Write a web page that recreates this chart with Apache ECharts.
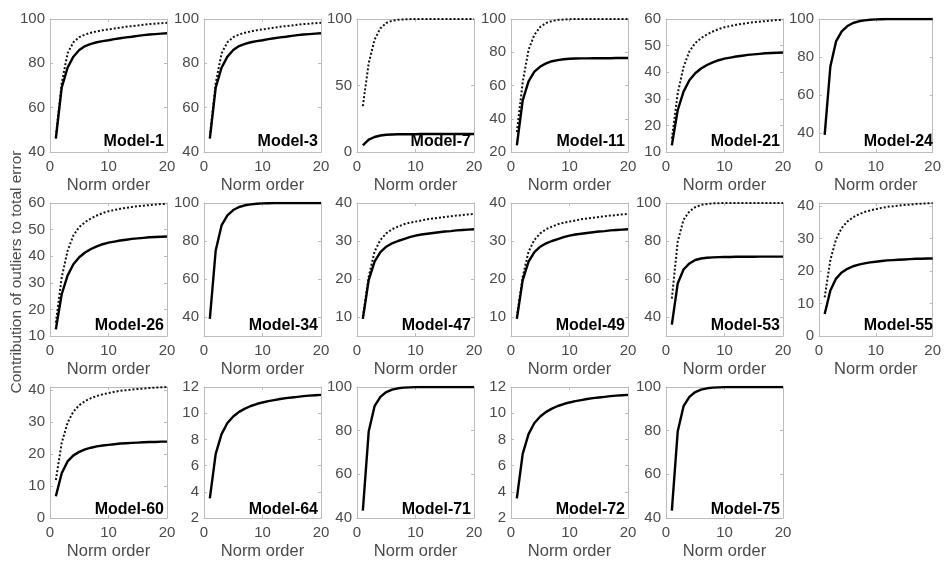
<!DOCTYPE html>
<html>
<head>
<meta charset="utf-8">
<script src="https://cdn.jsdelivr.net/npm/echarts@6/dist/echarts.min.js"></script>
<style>
  html, body { margin: 0; padding: 0; background: #fff; }
  #chart0 { width: 944px; height: 561px; }
</style>
</head>
<body>
<div id="chart0"></div>
<script>
// norm order 1..20
var normOrder = [1, 2, 3, 4, 5, 6, 7, 8, 9, 10, 11, 12, 13, 14, 15, 16, 17, 18, 19, 20]
var xTicks = [0, 10, 20]

var m1Solid = [46, 69, 78, 83, 86, 87.8, 88.8, 89.5, 90, 90.4, 90.9, 91.3, 91.7, 92, 92.4, 92.7, 93, 93.2, 93.4, 93.6]
var m1Dotted = [47, 71, 84.5, 89.5, 91.8, 93, 93.8, 94.4, 94.9, 95.3, 95.7, 96.1, 96.5, 96.8, 97.1, 97.4, 97.7, 97.9, 98.1, 98.3]
var m7Solid = [5, 9.3, 11.3, 12.4, 13, 13.2, 13.3, 13.4, 13.4, 13.4, 13.5, 13.5, 13.5, 13.5, 13.5, 13.5, 13.5, 13.5, 13.5, 13.5]
var m7Dotted = [34.5, 66.7, 84.4, 93, 97, 98.7, 99.4, 99.7, 99.9, 100, 100, 100, 100, 100, 100, 100, 100, 100, 100, 100]
var m11Solid = [24, 51, 62.5, 68.3, 71.4, 73.3, 74.6, 75.3, 75.8, 76.1, 76.2, 76.3, 76.3, 76.4, 76.4, 76.4, 76.4, 76.5, 76.5, 76.5]
var m11Dotted = [32, 62, 81.5, 90.5, 95.3, 97.6, 98.8, 99.4, 99.7, 99.9, 100, 100, 100, 100, 100, 100, 100, 100, 100, 100]
var m21Solid = [12.5, 25.7, 32.7, 37, 39.6, 41.4, 42.7, 43.7, 44.5, 45.1, 45.5, 45.9, 46.2, 46.5, 46.7, 46.9, 47.1, 47.2, 47.3, 47.4]
var m21Dotted = [15, 32, 42, 47.8, 51, 52.8, 54.2, 55.3, 56.2, 56.9, 57.4, 57.8, 58.2, 58.5, 58.8, 59, 59.2, 59.4, 59.6, 59.7]
var m24Solid = [39, 75, 88.2, 93.5, 96.3, 97.9, 98.8, 99.3, 99.6, 99.8, 99.9, 100, 100, 100, 100, 100, 100, 100, 100, 100]
var m47Solid = [9.5, 19.7, 24.6, 27.1, 28.5, 29.4, 30, 30.5, 31, 31.4, 31.7, 31.9, 32.1, 32.3, 32.5, 32.6, 32.8, 32.9, 33, 33.1]
var m47Dotted = [10, 20.6, 27.2, 30.3, 32, 33.1, 33.8, 34.4, 34.8, 35.1, 35.4, 35.7, 35.9, 36.1, 36.3, 36.5, 36.7, 36.8, 37, 37.1]
var m53Solid = [36, 57.6, 65, 68.2, 70, 70.8, 71.2, 71.4, 71.5, 71.6, 71.6, 71.7, 71.7, 71.7, 71.7, 71.8, 71.8, 71.8, 71.8, 71.8]
var m53Dotted = [49.7, 79.7, 91.2, 95.6, 97.8, 99, 99.5, 99.8, 99.9, 100, 100, 100, 100, 100, 100, 100, 100, 100, 100, 100]
var m55Solid = [6.8, 14, 17.7, 19.6, 20.7, 21.5, 22, 22.4, 22.7, 22.9, 23.1, 23.3, 23.4, 23.5, 23.6, 23.7, 23.8, 23.8, 23.9, 23.9]
var m55Dotted = [11.9, 23.5, 29.8, 33.3, 35.3, 36.6, 37.5, 38.2, 38.7, 39.1, 39.5, 39.8, 40, 40.2, 40.4, 40.5, 40.7, 40.8, 40.9, 41]
var m64Solid = [3.5, 6.9, 8.4, 9.25, 9.75, 10.1, 10.35, 10.55, 10.7, 10.82, 10.92, 11, 11.08, 11.15, 11.2, 11.25, 11.3, 11.34, 11.37, 11.4]
var m71Solid = [43.4, 79.6, 91.2, 95.5, 97.7, 98.8, 99.4, 99.7, 99.85, 99.95, 100, 100, 100, 100, 100, 100, 100, 100, 100, 100]

var ticks40to100 = [40, 60, 80, 100]
var ticks0to100 = [0, 50, 100]
var ticks20to100 = [20, 40, 60, 80, 100]
var ticks10to60 = [10, 20, 30, 40, 50, 60]
var ticks10to40 = [10, 20, 30, 40]
var ticks0to40 = [0, 10, 20, 30, 40]
var ticks2to12 = [2, 4, 6, 8, 10, 12]

var panels = [
  { name: 'Model-1', solid: m1Solid, dotted: m1Dotted, min: 40, max: 100, ticks: ticks40to100 },
  { name: 'Model-3', solid: m1Solid, dotted: m1Dotted, min: 40, max: 100, ticks: ticks40to100 },
  { name: 'Model-7', solid: m7Solid, dotted: m7Dotted, min: 0, max: 100, ticks: ticks0to100 },
  { name: 'Model-11', solid: m11Solid, dotted: m11Dotted, min: 20, max: 100, ticks: ticks20to100 },
  { name: 'Model-21', solid: m21Solid, dotted: m21Dotted, min: 10, max: 60, ticks: ticks10to60 },
  { name: 'Model-24', solid: m24Solid, dotted: null, min: 30, max: 100, ticks: ticks40to100 },
  { name: 'Model-26', solid: m21Solid, dotted: m21Dotted, min: 10, max: 60, ticks: ticks10to60 },
  { name: 'Model-34', solid: m24Solid, dotted: null, min: 30, max: 100, ticks: ticks40to100 },
  { name: 'Model-47', solid: m47Solid, dotted: m47Dotted, min: 5, max: 40, ticks: ticks10to40 },
  { name: 'Model-49', solid: m47Solid, dotted: m47Dotted, min: 5, max: 40, ticks: ticks10to40 },
  { name: 'Model-53', solid: m53Solid, dotted: m53Dotted, min: 30, max: 100, ticks: ticks40to100 },
  { name: 'Model-55', solid: m55Solid, dotted: m55Dotted, min: 0, max: 41, ticks: ticks0to40 },
  { name: 'Model-60', solid: m55Solid, dotted: m55Dotted, min: 0, max: 41, ticks: ticks0to40 },
  { name: 'Model-64', solid: m64Solid, dotted: null, min: 2, max: 12, ticks: ticks2to12 },
  { name: 'Model-71', solid: m71Solid, dotted: null, min: 40, max: 100, ticks: ticks40to100 },
  { name: 'Model-72', solid: m64Solid, dotted: null, min: 2, max: 12, ticks: ticks2to12 },
  { name: 'Model-75', solid: m71Solid, dotted: null, min: 40, max: 100, ticks: ticks40to100 }
]

;(function () {
  var chart0 = echarts.init(document.getElementById('chart0'))
  var colLeft = [50, 204, 357, 511, 666, 819]
  var rowTop = [19, 203, 387]
  var panelW = 117, panelH = 133
  var boxColor = '#bcbcbc'
  var textColor = '#4a4a4a'
  var font = 'Liberation Sans, Arial, sans-serif'

  var grid = [], xAxis = [], yAxis = [], series = [], title = []

  function pairs (ys) {
    return normOrder.map(function (x, k) { return [x, ys[k]] })
  }

  panels.forEach(function (p, i) {
    var left = colLeft[i % 6]
    var top = rowTop[Math.floor(i / 6)]
    grid.push({ left: left, top: top, width: panelW, height: panelH })

    var tick = { show: true, inside: true, length: 3, lineStyle: { color: boxColor } }
    var line = { show: true, onZero: false, lineStyle: { color: boxColor, width: 1 } }

    xAxis.push({
      gridIndex: i, type: 'value', min: 0, max: 20, interval: 10,
      axisLine: line, axisTick: tick, splitLine: { show: false },
      axisLabel: { color: textColor, fontSize: 15, fontFamily: font, margin: 7 },
      name: 'Norm order', nameLocation: 'middle', nameGap: 25,
      nameTextStyle: { color: textColor, fontSize: 16.5, fontFamily: font }
    })
    xAxis.push({
      gridIndex: i, type: 'value', position: 'top', min: 0, max: 20, interval: 10,
      axisLine: line, axisTick: tick, splitLine: { show: false },
      axisLabel: { show: false }
    })
    yAxis.push({
      gridIndex: i, type: 'value', min: p.min, max: p.max,
      axisLine: line, splitLine: { show: false },
      axisTick: { show: true, inside: true, length: 3, lineStyle: { color: boxColor }, customValues: p.ticks },
      axisLabel: { color: textColor, fontSize: 15, fontFamily: font, margin: 5, customValues: p.ticks }
    })
    yAxis.push({
      gridIndex: i, type: 'value', position: 'right', min: p.min, max: p.max,
      axisLine: line, splitLine: { show: false },
      axisTick: { show: true, inside: true, length: 3, lineStyle: { color: boxColor }, customValues: p.ticks },
      axisLabel: { show: false }
    })

    if (p.dotted) {
      series.push({
        type: 'line', xAxisIndex: 2 * i, yAxisIndex: 2 * i,
        data: pairs(p.dotted), showSymbol: false, silent: true,
        lineStyle: { color: '#111', width: 2, type: 'dotted' }
      })
    }
    series.push({
      type: 'line', xAxisIndex: 2 * i, yAxisIndex: 2 * i,
      data: pairs(p.solid), showSymbol: false, silent: true,
      lineStyle: { color: '#000', width: 2.4 }
    })

    title.push({
      text: p.name, padding: 0,
      right: 944 - (left + panelW) + 3,
      bottom: 561 - (top + panelH) + 2,
      textStyle: { fontSize: 16, fontWeight: 'bold', color: '#000', fontFamily: font }
    })
  })

  var option0 = {
    animation: false,
    backgroundColor: '#fff',
    title: title,
    grid: grid,
    xAxis: xAxis,
    yAxis: yAxis,
    series: series,
    graphic: [{
      type: 'text', x: 17, y: 272, rotation: Math.PI / 2,
      style: {
        text: 'Contribution of outliers to total error',
        fontSize: 15.5, fontFamily: font, fill: textColor,
        align: 'center', verticalAlign: 'middle'
      }
    }]
  }
  chart0.setOption(option0)
})()
</script>
</body>
</html>
